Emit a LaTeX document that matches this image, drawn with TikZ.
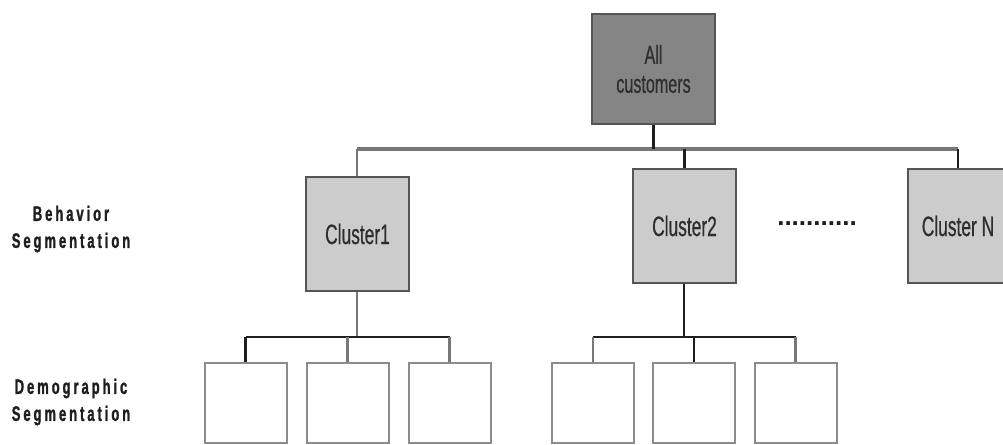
\documentclass[tikz,border=0pt]{standalone}
\usepackage{fontspec}
\setmainfont{Liberation Sans}
% condensed face for the box captions
\newfontfamily\narrowfont[FakeStretch=0.62,FakeBold=0.6]{Liberation Sans}
% spaced heavy face for the level captions on the left
\newfontfamily\levelfont[FakeStretch=0.62,LetterSpace=14,FakeBold=1.2]{Liberation Sans Bold}
\newfontfamily\dotfont{Liberation Sans Bold}
\definecolor{rootfill}{HTML}{858585}
\definecolor{clusterfill}{HTML}{CCCCCC}
\definecolor{boxline}{HTML}{555555}
\definecolor{leafline}{HTML}{8C8C8C}
\definecolor{barline}{HTML}{777777}
\definecolor{linkline}{HTML}{1E1E1E}
\definecolor{captext}{HTML}{2E2E2E}
\begin{document}
\begin{tikzpicture}[x=1pt,y=-1pt,
  rootbox/.style={rectangle,draw=boxline,fill=rootfill,line width=1.5pt,
    minimum width=123pt,minimum height=110pt,inner sep=0pt,
    font=\narrowfont\fontsize{26}{29}\selectfont,text=captext,align=center},
  clusterbox/.style={rectangle,draw=boxline,fill=clusterfill,line width=1.5pt,
    minimum width=103pt,minimum height=114pt,inner sep=0pt,
    font=\narrowfont\fontsize{28}{30}\selectfont,text=captext},
  leafbox/.style={rectangle,draw=leafline,fill=white,line width=2pt,
    minimum width=82pt,minimum height=80pt,inner sep=0pt},
  levellabel/.style={font=\levelfont\fontsize{21}{27}\selectfont,
    text=linkline,align=center},
  link/.style={draw=linkline,line width=2.2pt},
  softlink/.style={draw=barline,line width=2.6pt},
  bar/.style={draw=barline,line width=3.5pt}
]
\clip (0,0) rectangle (1003,444);
\useasboundingbox (0,0) rectangle (1003,444);

% root
\node[rootbox] (all) at (653.5,69) {All\\customers};

% behaviour clusters
\node[clusterbox] (c1) at (357.5,234) {Cluster1};
\node[clusterbox] (c2) at (684.5,226) {Cluster2};
\node[clusterbox,minimum width=100pt] (cN) at (958,226) {Cluster N};
\node[font=\dotfont\fontsize{26}{28}\selectfont,text=linkline] (dots) at (817,224) {...........};

% demographic segments
\node[leafbox] (l11) at (245.5,403) {};
\node[leafbox] (l12) at (347.5,403) {};
\node[leafbox] (l13) at (449.5,403) {};
\node[leafbox] (l21) at (593,403) {};
\node[leafbox] (l22) at (694,403) {};
\node[leafbox] (l23) at (795.5,403) {};

% level captions
\node[levellabel] (beh) at (71,229) {Behavior\\Segmentation};
\node[levellabel] (dem) at (71,402) {Demographic\\Segmentation};

% top level bus
\coordinate (busL) at (357,149);
\coordinate (busR) at (958,149);
\draw[bar] (busL) -- (busR);
\draw[link] (all.south) -- (all.south |- busL);
\draw[softlink] (busL) -- (c1.north -| busL);
\draw[link] (c2.north |- busL) -- (c2.north);
\draw[link,line width=1.6pt] (busR) -- (c2.north -| busR);

% cluster 1 children
\coordinate (j1) at (357,337);
\draw[softlink] (c1.south -| j1) -- (j1);
\draw[link] (l11.north |- j1) -- (l13.north |- j1);
\draw[link] (l11.north) -- (l11.north |- j1);
\draw[softlink] (l12.north) -- (l12.north |- j1);
\draw[softlink] (l13.north) -- (l13.north |- j1);

% cluster 2 children
\coordinate (j2) at (684,337);
\draw[link] (c2.south -| j2) -- (j2);
\draw[link] (l21.north |- j2) -- (l23.north |- j2);
\draw[softlink] (l21.north) -- (l21.north |- j2);
\draw[link] (l22.north) -- (l22.north |- j2);
\draw[softlink] (l23.north) -- (l23.north |- j2);
\end{tikzpicture}
\end{document}
